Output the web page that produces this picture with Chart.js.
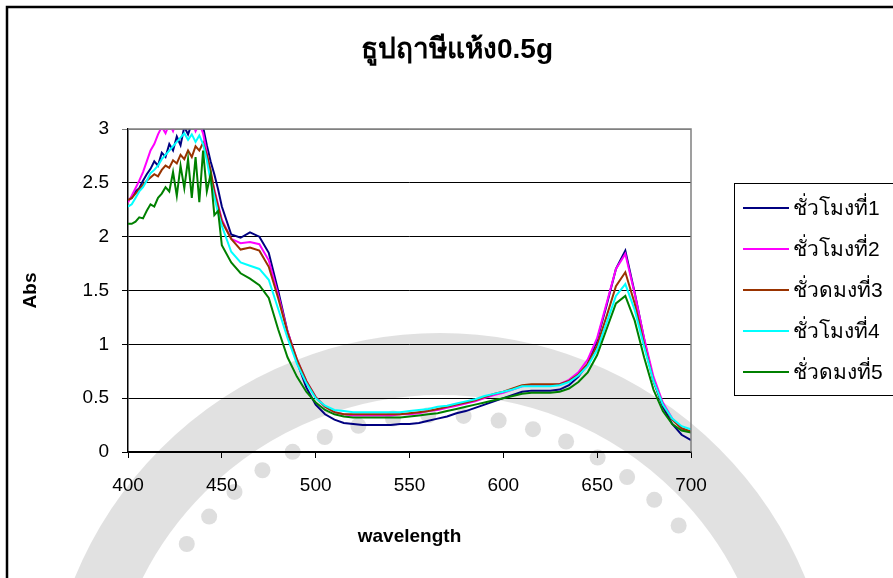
<!DOCTYPE html>
<html>
<head>
<meta charset="utf-8">
<script src="https://cdn.jsdelivr.net/npm/chart.js@4.4.1/dist/chart.umd.min.js"></script>
<style>
  html, body { margin: 0; padding: 0; background: #fff; }
  #wrap { width: 893px; height: 578px; position: relative; }
</style>
</head>
<body>
<div id="wrap"><canvas id="abs-chart"></canvas></div>
<script>
const FONT = "'Liberation Sans', Arial, 'Noto Sans', sans-serif";

const chartTitle = "ธูปฤาษีแห้ง0.5g";
const seriesNames = ["ชั่วโมงที่1", "ชั่วโมงที่2", "ชั่วดมงที่3", "ชั่วโมงที่4", "ชั่วดมงที่5"];
const seriesColors = ["#000080", "#ff00ff", "#993300", "#00ffff", "#008000"];
const yTicks = [0, 0.5, 1, 1.5, 2, 2.5, 3];
const xTicks = [400, 450, 500, 550, 600, 650, 700];

const wavelengths = [
  400, 402, 404, 406, 408, 410, 412, 414, 416, 418, 420, 422, 424, 426, 428, 430, 432, 434, 436, 438, 440, 442, 444, 446, 448, 450,
  455, 460, 465, 470, 475, 480, 485, 490, 495, 500,
  505, 510, 515, 520, 525, 530, 535, 540, 545, 550,
  555, 560, 565, 570, 575, 580, 585, 590, 595, 600,
  605, 610, 615, 620, 625, 630, 635, 640, 645, 650,
  655, 660, 665, 670, 675, 680, 685, 690, 695, 700
];

const hour1 = [
  2.34, 2.36, 2.42, 2.45, 2.52, 2.58, 2.63, 2.70, 2.66, 2.78, 2.74, 2.86, 2.80, 2.93, 2.85, 3.02, 2.95, 3.05, 3.04, 3.08, 3.02, 2.85, 2.70, 2.58, 2.44, 2.28,
  2.02, 1.99, 2.04, 2.00, 1.85, 1.50, 1.12, 0.84, 0.60, 0.44,
  0.35, 0.30, 0.27, 0.26, 0.25, 0.25, 0.25, 0.25, 0.26, 0.26,
  0.27, 0.29, 0.31, 0.33, 0.36, 0.38, 0.41, 0.44, 0.47, 0.50,
  0.53, 0.56, 0.57, 0.57, 0.57, 0.58, 0.62, 0.70, 0.82, 1.04,
  1.36, 1.70, 1.87, 1.48, 1.05, 0.66, 0.42, 0.26, 0.16, 0.11
];
const hour2 = [
  2.32, 2.38, 2.45, 2.52, 2.60, 2.70, 2.80, 2.86, 2.95, 3.02, 2.96, 3.05, 2.98, 3.08, 3.02, 3.10, 3.04, 3.08, 2.98, 3.05, 2.96, 2.78, 2.58, 2.44, 2.30, 2.16,
  1.98, 1.94, 1.95, 1.93, 1.78, 1.46, 1.12, 0.86, 0.66, 0.51,
  0.42, 0.37, 0.35, 0.34, 0.34, 0.34, 0.34, 0.34, 0.35, 0.35,
  0.36, 0.38, 0.39, 0.41, 0.43, 0.45, 0.47, 0.50, 0.53, 0.55,
  0.58, 0.61, 0.62, 0.62, 0.62, 0.63, 0.67, 0.74, 0.86, 1.06,
  1.38, 1.70, 1.84, 1.47, 1.06, 0.70, 0.46, 0.31, 0.22, 0.18
];
const hour3 = [
  2.34, 2.36, 2.40, 2.44, 2.48, 2.52, 2.55, 2.58, 2.56, 2.62, 2.66, 2.64, 2.71, 2.68, 2.76, 2.72, 2.80, 2.74, 2.84, 2.80, 2.87, 2.76, 2.62, 2.42, 2.28, 2.14,
  1.98, 1.88, 1.90, 1.87, 1.72, 1.43, 1.11, 0.86, 0.66, 0.51,
  0.42, 0.37, 0.35, 0.35, 0.35, 0.35, 0.35, 0.35, 0.35, 0.36,
  0.37, 0.38, 0.40, 0.42, 0.44, 0.46, 0.48, 0.51, 0.54, 0.56,
  0.59, 0.62, 0.63, 0.63, 0.63, 0.63, 0.66, 0.72, 0.82, 0.99,
  1.26, 1.54, 1.67, 1.38, 1.00, 0.66, 0.44, 0.30, 0.22, 0.19
];
const hour4 = [
  2.28, 2.30, 2.36, 2.42, 2.46, 2.52, 2.59, 2.62, 2.66, 2.72, 2.76, 2.80, 2.84, 2.88, 2.92, 2.96, 2.90, 2.95, 2.88, 2.94, 2.86, 2.71, 2.52, 2.37, 2.22, 2.10,
  1.86, 1.76, 1.73, 1.70, 1.60, 1.33, 1.06, 0.82, 0.64, 0.50,
  0.43, 0.39, 0.38, 0.37, 0.37, 0.37, 0.37, 0.37, 0.37, 0.38,
  0.39, 0.40, 0.42, 0.43, 0.45, 0.47, 0.49, 0.52, 0.54, 0.56,
  0.58, 0.61, 0.61, 0.61, 0.61, 0.62, 0.65, 0.71, 0.80, 0.95,
  1.20, 1.45, 1.56, 1.32, 0.98, 0.66, 0.44, 0.31, 0.24, 0.21
];
const hour5 = [
  2.12, 2.12, 2.14, 2.18, 2.17, 2.24, 2.30, 2.28, 2.36, 2.40, 2.46, 2.42, 2.60, 2.38, 2.66, 2.45, 2.72, 2.36, 2.74, 2.32, 2.80, 2.42, 2.58, 2.20, 2.24, 1.92,
  1.76, 1.66, 1.61, 1.55, 1.43, 1.14, 0.88, 0.70, 0.56, 0.46,
  0.39, 0.35, 0.33, 0.32, 0.32, 0.32, 0.32, 0.32, 0.32, 0.33,
  0.34, 0.35, 0.36, 0.38, 0.40, 0.42, 0.44, 0.46, 0.48, 0.50,
  0.52, 0.54, 0.55, 0.55, 0.55, 0.56, 0.59, 0.65, 0.74, 0.90,
  1.14, 1.38, 1.45, 1.22, 0.88, 0.58, 0.38, 0.26, 0.20, 0.18
];

const seriesValues = [hour1, hour2, hour3, hour4, hour5];

// white page, faint seal behind the plot, then the framing
const pagePlugin = {
  id: "page",
  beforeDraw(chart) {
    const ctx = chart.ctx;
    ctx.save();
    ctx.fillStyle = "#fff";
    ctx.fillRect(0, 0, chart.width, chart.height);

    const cx = 440, cy = 728;
    ctx.strokeStyle = "rgba(200,200,200,0.55)";
    ctx.lineWidth = 62;
    ctx.beginPath();
    ctx.arc(cx, cy, 364, Math.PI * 1.0, Math.PI * 2.0);
    ctx.stroke();

    ctx.fillStyle = "rgba(200,200,200,0.6)";
    for (let a = 1.2; a <= 1.8; a += 0.036) {
      const ang = Math.PI * a;
      ctx.beginPath();
      ctx.arc(cx + Math.cos(ang) * 313, cy + Math.sin(ang) * 313, 8, 0, Math.PI * 2);
      ctx.fill();
    }
    ctx.restore();
  },
  afterDraw(chart) {
    const ctx = chart.ctx;
    const area = chart.chartArea;
    ctx.save();

    // plot frame: grey top and right, black axes
    ctx.strokeStyle = "#808080";
    ctx.lineWidth = 1.5;
    ctx.beginPath();
    ctx.moveTo(area.left, area.top);
    ctx.lineTo(area.right, area.top);
    ctx.lineTo(area.right, area.bottom);
    ctx.stroke();

    // title
    ctx.fillStyle = "#000";
    ctx.font = "bold 28px " + FONT;
    ctx.textAlign = "center";
    ctx.textBaseline = "middle";
    ctx.fillText(chartTitle, 457, 50);

    // legend
    const lx = 734, ly = 183, lw = 200, lh = 212;
    ctx.fillStyle = "#fff";
    ctx.fillRect(lx, ly, lw, lh);
    ctx.strokeStyle = "#000";
    ctx.lineWidth = 1;
    ctx.strokeRect(lx + 0.5, ly + 0.5, lw, lh);
    ctx.font = "21px " + FONT;
    ctx.textAlign = "left";
    seriesNames.forEach((name, i) => {
      const y = 208 + i * 41;
      ctx.strokeStyle = seriesColors[i];
      ctx.lineWidth = 2;
      ctx.beginPath();
      ctx.moveTo(743, y);
      ctx.lineTo(789, y);
      ctx.stroke();
      ctx.fillStyle = "#000";
      ctx.fillText(name, 793, y + 1);
    });

    // outer chart border
    ctx.strokeStyle = "#000";
    ctx.lineWidth = 2.5;
    ctx.strokeRect(7, 7, 920, 620);
    ctx.restore();
  }
};

const datasets = seriesNames.map((name, i) => ({
  label: name,
  data: wavelengths.map((w, j) => ({ x: w, y: seriesValues[i][j] })),
  borderColor: seriesColors[i],
  backgroundColor: seriesColors[i],
  borderWidth: 2,
  pointRadius: 0,
  tension: 0,
  clip: 0,
  order: seriesNames.length - 1 - i
}));

new Chart(document.getElementById("abs-chart"), {
  type: "line",
  data: { datasets },
  plugins: [pagePlugin],
  options: {
    responsive: true,
    maintainAspectRatio: false,
    animation: false,
    events: [],
    layout: { padding: { top: 129, right: 202, left: 0, bottom: 0 } },
    plugins: { legend: { display: false }, tooltip: { enabled: false } },
    scales: {
      x: {
        type: "linear",
        min: 400,
        max: 700,
        afterBuildTicks: (axis) => { axis.ticks = xTicks.map((v) => ({ value: v })); },
        afterFit: (axis) => { axis.height = 126; },
        ticks: { color: "#000", padding: 16, font: { family: FONT, size: 19 }, callback: (v) => String(v) },
        grid: { drawOnChartArea: false, drawTicks: true, tickLength: 6, color: "#000" },
        border: { color: "#000", width: 1.5 },
        title: {
          display: true,
          text: "wavelength",
          color: "#000",
          font: { family: FONT, size: 19, weight: "bold" },
          padding: { top: 0, bottom: 30 }
        }
      },
      y: {
        min: 0,
        max: 3,
        afterBuildTicks: (axis) => { axis.ticks = yTicks.map((v) => ({ value: v })); },
        afterFit: (axis) => { axis.width = 128; },
        ticks: { color: "#000", padding: 13, font: { family: FONT, size: 19 }, callback: (v) => String(v) },
        grid: {
          color: (c) => (c.tick && c.tick.value === 3 ? "#808080" : "#000"),
          lineWidth: 1,
          drawTicks: true,
          tickLength: 6
        },
        border: { color: "#000", width: 1.5 },
        title: {
          display: true,
          text: "Abs",
          color: "#000",
          font: { family: FONT, size: 19, weight: "bold" },
          padding: { top: 19, bottom: 0 }
        }
      }
    }
  }
});
</script>
</body>
</html>
